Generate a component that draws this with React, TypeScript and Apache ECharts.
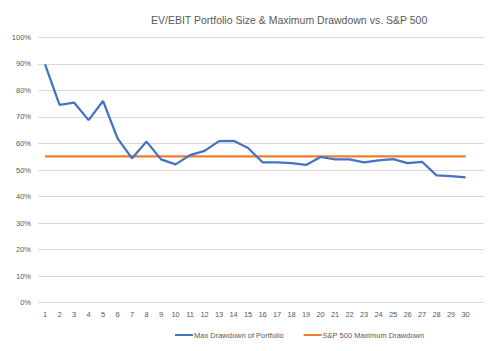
import React, { useEffect, useRef } from "react";
import * as echarts from "echarts";

const categories = ["1","2","3","4","5","6","7","8","9","10","11","12","13","14","15","16","17","18","19","20","21","22","23","24","25","26","27","28","29","30"];
const portfolioDrawdown = [0.898, 0.745, 0.754, 0.688, 0.760, 0.619, 0.544, 0.607, 0.540, 0.521, 0.556, 0.572, 0.609, 0.610, 0.583, 0.529, 0.529, 0.526, 0.519, 0.549, 0.540, 0.540, 0.529, 0.536, 0.541, 0.526, 0.531, 0.480, 0.477, 0.472];
const sp500Drawdown = [0.551, 0.551, 0.551, 0.551, 0.551, 0.551, 0.551, 0.551, 0.551, 0.551, 0.551, 0.551, 0.551, 0.551, 0.551, 0.551, 0.551, 0.551, 0.551, 0.551, 0.551, 0.551, 0.551, 0.551, 0.551, 0.551, 0.551, 0.551, 0.551, 0.551];
const seriesNames = ["Max Drawdown of Portfolio", "S&P 500 Maximum Drawdown"];
const titleText = "EV/EBIT Portfolio Size & Maximum Drawdown vs. S&P 500";

export default function App() {
  const ref = useRef<HTMLDivElement>(null);
  useEffect(() => {
    if (!ref.current) return;
    const chart = echarts.init(ref.current, null, { renderer: "svg" });
    const font = "Liberation Sans";
    const gray = "#595959";
    chart.setOption({
      animation: false,
      backgroundColor: "#ffffff",
      title: {
        text: titleText,
        left: 146,
        top: 9,
        textStyle: { fontFamily: font, fontSize: 10.5, fontWeight: "normal", color: gray },
      },
      legend: {
        left: 170,
        top: 326,
        itemWidth: 18,
        itemHeight: 2,
        itemGap: 20,
        icon: "rect",
        textStyle: { fontFamily: font, fontSize: 7.5, color: gray, padding: [0, 0, 0, -4] },
        data: seriesNames,
      },
      grid: [
        { left: 38, right: 18, top: 37.3, bottom: 48.3 },
        { left: 37.8, width: 435, top: 37.3, bottom: 48.3 },
      ],
      xAxis: [
        { type: "category", gridIndex: 0, data: categories, show: false },
        {
          type: "category",
          gridIndex: 1,
          data: categories,
          boundaryGap: true,
          axisLine: { show: false },
          axisTick: { show: false },
          axisLabel: { fontFamily: font, fontSize: 7.5, color: gray, margin: 8 },
        },
      ],
      yAxis: [
        {
          type: "value",
          gridIndex: 0,
          min: 0,
          max: 1,
          interval: 0.1,
          axisLine: { show: false },
          axisTick: { show: false },
          axisLabel: {
            fontFamily: font,
            fontSize: 7.5,
            color: gray,
            margin: 7,
            formatter: (v: number) => Math.round(v * 100) + "%",
          },
          splitLine: { lineStyle: { color: "#d9d9d9", width: 1 } },
        },
        { type: "value", gridIndex: 1, min: 0, max: 1, show: false },
      ],
      series: [
        {
          name: seriesNames[0],
          type: "line",
          xAxisIndex: 1,
          yAxisIndex: 1,
          data: portfolioDrawdown,
          showSymbol: false,
          symbol: "none",
          lineStyle: { color: "#4472C4", width: 2.25 },
          itemStyle: { color: "#4472C4" },
          z: 3,
        },
        {
          name: seriesNames[1],
          type: "line",
          xAxisIndex: 1,
          yAxisIndex: 1,
          data: sp500Drawdown,
          showSymbol: false,
          symbol: "none",
          lineStyle: { color: "#ED7D31", width: 2.25 },
          itemStyle: { color: "#ED7D31" },
          z: 2,
        },
      ],
      graphic: [
        {
          type: "line",
          shape: { x1: 10, y1: 344, x2: 485, y2: 344 },
          style: { stroke: "#d9d9d9", lineWidth: 1 },
          silent: true,
        },
      ],
    });
    return () => chart.dispose();
  }, []);
  return <div ref={ref} style={{ width: 502, height: 351, margin: -8 }} />;
}
